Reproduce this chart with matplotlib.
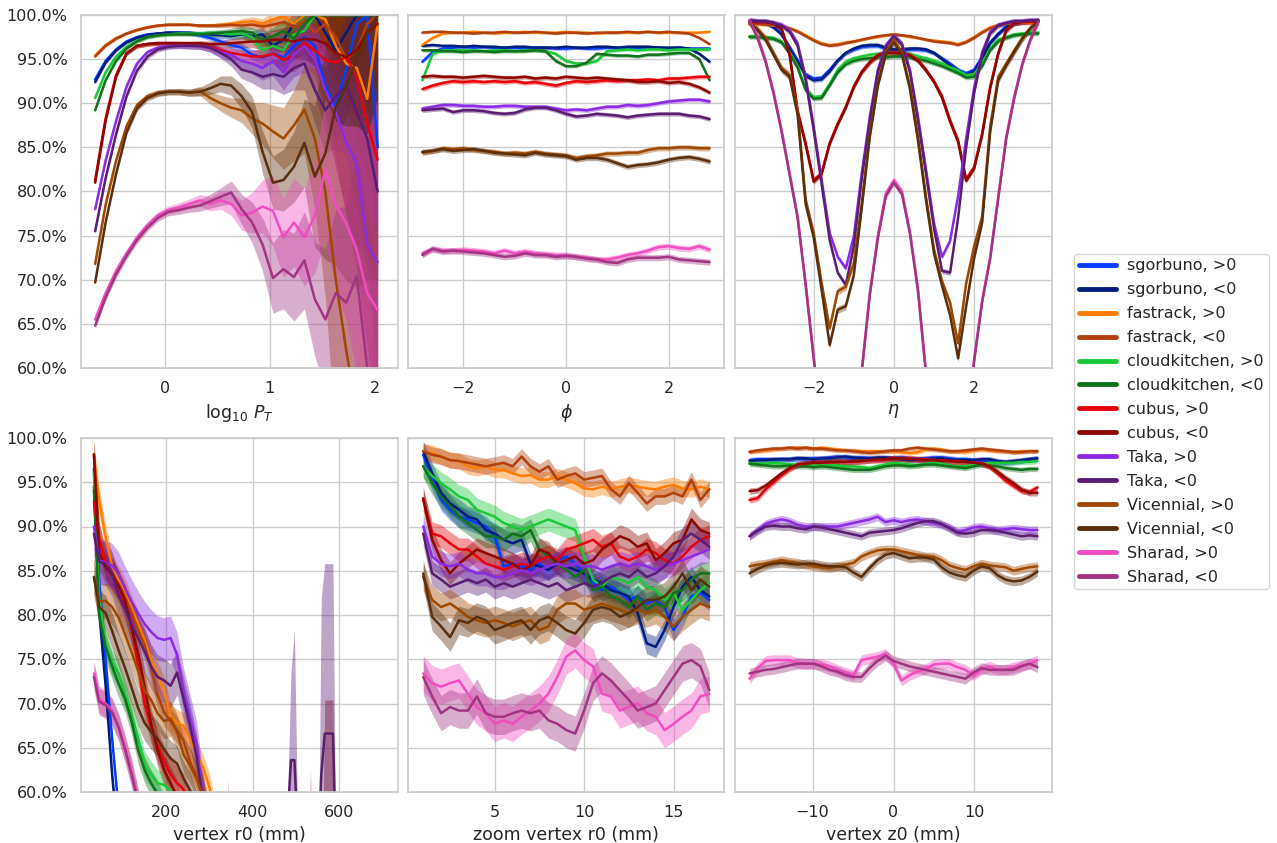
import numpy as np
import matplotlib
matplotlib.use("Agg")
import matplotlib.pyplot as plt
import seaborn as sns
from matplotlib.ticker import PercentFormatter
from matplotlib.lines import Line2D

sns.set_theme(style="whitegrid")
plt.rcParams["font.family"] = ["DejaVu Sans"]

# ---------------- series definitions ----------------
ALGOS = ["sgorbuno", "fastrack", "cloudkitchen", "cubus", "Taka", "Vicennial", "Sharad"]
COL_POS = ["#023eff", "#ff7c00", "#1ac938", "#e8000b", "#8b2be2", "#9f4800", "#f14cc1"]
COL_NEG = ["#001c7f", "#b1400d", "#12711c", "#8c0800", "#591e71", "#592f0d", "#a23582"]

# ---------------- panel 1: log10 pT ----------------
PT_X = np.linspace(-0.67, 2.03, 28)
PT_SGO_P = [92.7, 94.8, 96.1, 97.0, 97.5, 97.8, 97.9, 98.0, 98.0, 97.9, 97.7, 97.4, 97.0, 96.6, 96.3, 95.5, 95.2, 95.6, 95.2, 96.5, 97.5, 96.5, 92.0, 89.5, 94.0, 99.0, 100.0, 85.0]
PT_SGO_N = [92.4, 94.6, 96.0, 96.9, 97.4, 97.7, 97.9, 98.0, 98.0, 98.0, 97.9, 97.8, 97.7, 97.6, 97.8, 97.6, 97.8, 96.5, 97.2, 99.0, 100.0, 100.0, 98.0, 96.0, 98.0, 100.0, 100.0, 100.0]
PT_FAST_P = [95.4, 96.6, 97.4, 97.9, 98.3, 98.6, 98.8, 98.9, 98.9, 98.9, 98.8, 98.8, 98.9, 99.0, 99.2, 99.3, 99.0, 99.5, 99.8, 99.0, 100.0, 100.0, 99.5, 96.5, 94.5, 94.0, 90.5, 99.0]
PT_FAST_N = [95.3, 96.5, 97.3, 97.9, 98.3, 98.6, 98.8, 98.9, 98.9, 98.9, 98.8, 98.8, 98.8, 98.9, 98.8, 98.9, 98.7, 98.9, 99.2, 98.6, 99.3, 98.0, 99.0, 97.5, 95.0, 96.0, 99.0, 100.0]
PT_CLOUD_P = [90.6, 93.5, 95.3, 96.4, 97.1, 97.5, 97.7, 97.8, 97.9, 97.9, 97.9, 98.0, 97.9, 97.8, 97.9, 97.5, 96.0, 96.5, 96.0, 97.8, 98.2, 100.0, 100.0, 100.0, 100.0, 100.0, 100.0, 100.0]
PT_CLOUD_N = [89.2, 92.6, 94.8, 96.2, 97.0, 97.5, 97.7, 97.8, 97.8, 97.8, 97.8, 97.9, 98.0, 98.1, 98.2, 98.0, 97.2, 97.6, 98.2, 97.3, 99.0, 100.0, 100.0, 100.0, 100.0, 100.0, 100.0, 100.0]
PT_CUBUS_P = [81.3, 88.3, 93.2, 95.7, 96.5, 96.7, 96.8, 96.8, 96.8, 96.7, 96.6, 96.4, 96.0, 95.7, 95.5, 95.3, 95.3, 95.6, 94.9, 95.4, 96.8, 96.0, 94.9, 94.6, 95.3, 93.0, 87.7, 83.6]
PT_CUBUS_N = [81.0, 88.0, 93.0, 95.6, 96.5, 96.7, 96.8, 96.8, 96.8, 96.8, 96.8, 96.7, 96.7, 96.8, 96.9, 97.0, 97.0, 97.2, 97.2, 97.0, 97.3, 97.2, 96.8, 95.7, 95.2, 96.0, 98.0, 99.0]
PT_TAKA_P = [78.0, 83.5, 88.0, 91.9, 94.5, 95.8, 96.3, 96.5, 96.5, 96.5, 96.5, 96.3, 95.8, 95.5, 94.8, 94.5, 94.0, 94.8, 93.5, 95.5, 96.5, 95.0, 91.5, 89.0, 85.5, 83.2, 74.0, 72.0]
PT_TAKA_N = [75.5, 81.5, 86.5, 90.8, 93.7, 95.3, 96.1, 96.4, 96.5, 96.5, 96.5, 96.3, 95.7, 95.0, 93.8, 93.5, 93.0, 93.3, 93.0, 94.0, 94.5, 91.5, 89.2, 90.8, 92.0, 89.0, 86.0, 80.0]
PT_VIC_P = [71.8, 78.5, 83.5, 87.4, 89.8, 90.8, 91.2, 91.3, 91.3, 91.2, 91.4, 90.6, 90.0, 89.5, 89.2, 88.3, 87.7, 86.8, 86.0, 87.5, 89.3, 86.0, 80.0, 70.0, 62.0, 55.0, 50.0, 45.0]
PT_VIC_N = [69.7, 76.5, 82.0, 86.7, 89.4, 90.6, 91.1, 91.3, 91.3, 91.2, 91.3, 91.7, 92.2, 92.0, 90.8, 89.0, 84.5, 81.0, 81.3, 82.8, 85.5, 81.7, 84.3, 89.6, 91.9, 95.0, 98.0, 100.0]
PT_SHAR_P = [65.5, 68.5, 71.0, 73.0, 74.8, 76.2, 77.3, 77.9, 78.2, 78.6, 79.0, 78.6, 79.0, 78.6, 77.3, 77.6, 78.3, 77.8, 74.8, 76.5, 74.8, 77.3, 82.5, 78.5, 76.4, 73.4, 68.5, 66.6]
PT_SHAR_N = [64.8, 68.0, 70.6, 72.7, 74.5, 75.9, 77.0, 77.7, 77.9, 78.2, 78.4, 78.9, 79.4, 79.9, 78.0, 76.5, 74.0, 70.2, 71.2, 70.3, 72.2, 67.8, 65.5, 68.5, 67.4, 70.4, 60.0, 45.0]
PT_ERR_SGO = [0.2, 0.2, 0.2, 0.2, 0.2, 0.2, 0.2, 0.2, 0.2, 0.2, 0.25, 0.3, 0.35, 0.4, 0.5, 0.6, 0.8, 1.0, 1.2, 1.5, 1.9, 2.4, 3.0, 4.0, 5.5, 7.5, 10.0, 14.0]
PT_ERR_FAST = [0.15, 0.15, 0.15, 0.15, 0.15, 0.15, 0.15, 0.15, 0.15, 0.15, 0.2, 0.2, 0.25, 0.3, 0.4, 0.5, 0.6, 0.8, 1.0, 1.3, 1.7, 2.2, 3.0, 4.0, 5.5, 7.5, 10.0, 14.0]
PT_ERR_CLOUD = [0.2, 0.2, 0.2, 0.2, 0.2, 0.2, 0.2, 0.2, 0.2, 0.2, 0.25, 0.3, 0.35, 0.4, 0.5, 0.6, 0.8, 1.0, 1.3, 1.7, 2.2, 2.8, 3.5, 4.5, 6.0, 8.0, 11.0, 15.0]
PT_ERR_CUBUS = [0.25, 0.25, 0.25, 0.25, 0.25, 0.25, 0.25, 0.25, 0.25, 0.25, 0.3, 0.35, 0.4, 0.5, 0.6, 0.7, 0.9, 1.1, 1.4, 1.8, 2.3, 3.0, 6.0, 12.0, 18.0, 22.0, 25.0, 30.0]
PT_ERR_TAKA = [0.3, 0.3, 0.3, 0.3, 0.3, 0.3, 0.3, 0.3, 0.3, 0.35, 0.4, 0.5, 0.6, 0.8, 1.0, 1.2, 1.4, 1.7, 2.0, 2.5, 3.0, 3.8, 4.8, 6.0, 8.0, 11.0, 15.0, 20.0]
PT_ERR_VIC = [0.35, 0.35, 0.35, 0.35, 0.35, 0.35, 0.35, 0.35, 0.35, 0.4, 0.5, 0.7, 0.9, 1.1, 1.4, 1.8, 2.4, 3.0, 3.5, 4.0, 5.0, 8.0, 12.0, 18.0, 22.0, 26.0, 28.0, 30.0]
PT_ERR_SHAR = [0.4, 0.4, 0.4, 0.4, 0.4, 0.4, 0.4, 0.45, 0.5, 0.55, 0.65, 0.8, 1.0, 1.3, 1.7, 2.3, 3.0, 4.0, 4.5, 5.0, 5.5, 6.5, 8.0, 9.5, 11.0, 14.0, 18.0, 24.0]

# ---------------- panel 2: phi ----------------
PHI_X = np.linspace(-2.8, 2.8, 29)
PHI_SGO_P = [94.7, 95.8, 96.2, 96.3, 96.4, 96.3, 96.4, 96.3, 96.3, 96.3, 96.2, 96.3, 96.3, 96.2, 96.2, 96.3, 96.2, 96.2, 96.3, 96.3, 96.2, 96.3, 96.3, 96.3, 96.2, 96.3, 96.2, 96.2, 96.2]
PHI_SGO_N = [96.5, 96.6, 96.5, 96.5, 96.4, 96.5, 96.4, 96.4, 96.3, 96.4, 96.4, 96.3, 96.3, 96.3, 96.4, 96.3, 96.3, 96.4, 96.4, 96.3, 96.4, 96.4, 96.4, 96.3, 96.3, 96.3, 96.2, 95.6, 94.7]
PHI_FAST_P = [96.6, 97.4, 97.9, 98.0, 98.0, 98.1, 98.0, 97.9, 98.0, 98.0, 98.1, 98.0, 98.0, 98.0, 98.1, 98.0, 98.0, 97.9, 98.0, 98.0, 98.0, 98.0, 98.1, 98.0, 98.0, 98.0, 98.0, 98.0, 98.1]
PHI_FAST_N = [98.0, 98.1, 98.1, 98.0, 98.0, 97.9, 98.0, 98.0, 98.1, 98.0, 98.0, 98.1, 98.0, 97.9, 98.0, 98.0, 97.9, 98.0, 98.0, 98.0, 98.1, 98.0, 98.1, 98.0, 98.1, 98.0, 97.9, 97.4, 96.7]
PHI_CLOUD_P = [92.6, 95.6, 96.0, 96.0, 96.0, 96.0, 95.9, 96.0, 96.0, 95.9, 96.0, 96.0, 95.9, 95.6, 94.8, 94.5, 94.5, 94.8, 95.9, 96.0, 96.1, 96.0, 96.1, 96.1, 96.0, 96.1, 96.1, 96.1, 96.1]
PHI_CLOUD_N = [96.0, 96.0, 95.9, 95.9, 95.8, 95.9, 95.9, 95.8, 95.9, 95.9, 95.9, 96.0, 95.9, 94.8, 94.2, 94.2, 94.6, 95.6, 95.5, 95.4, 95.4, 95.3, 95.5, 95.5, 95.6, 95.7, 95.7, 95.0, 92.6]
PHI_CUBUS_P = [91.6, 92.0, 92.3, 92.5, 92.4, 92.5, 92.4, 92.5, 92.4, 92.5, 92.3, 92.4, 92.2, 92.0, 92.3, 92.5, 92.4, 92.5, 92.6, 92.5, 92.6, 92.6, 92.7, 92.6, 92.8, 92.8, 92.9, 93.0, 93.0]
PHI_CUBUS_N = [93.0, 93.1, 93.0, 93.0, 92.9, 93.0, 93.1, 93.0, 92.9, 92.9, 93.0, 92.8, 92.9, 92.8, 93.0, 92.9, 92.8, 92.9, 92.8, 92.7, 92.6, 92.4, 92.4, 92.5, 92.3, 92.4, 92.2, 91.8, 91.2]
PHI_TAKA_P = [89.4, 89.6, 89.8, 89.8, 89.7, 89.7, 89.6, 89.6, 89.7, 89.7, 89.6, 89.6, 89.6, 89.4, 89.2, 89.3, 89.2, 89.4, 89.6, 89.6, 89.8, 89.7, 89.8, 90.0, 90.2, 90.3, 90.4, 90.4, 90.2]
PHI_TAKA_N = [89.2, 89.3, 89.4, 89.0, 89.2, 89.2, 89.1, 88.9, 88.8, 88.9, 89.3, 89.5, 89.5, 89.2, 88.8, 88.5, 88.6, 88.8, 88.7, 88.6, 88.4, 88.6, 88.7, 88.8, 88.8, 88.8, 88.6, 88.5, 88.2]
PHI_VIC_P = [84.4, 84.6, 84.9, 84.8, 84.9, 84.7, 84.6, 84.5, 84.3, 84.4, 84.3, 84.5, 84.3, 84.2, 84.1, 83.8, 84.0, 84.1, 84.3, 84.3, 84.4, 84.4, 84.7, 84.9, 84.9, 85.0, 85.0, 84.9, 84.9]
PHI_VIC_N = [84.5, 84.6, 84.8, 84.6, 84.7, 84.8, 84.6, 84.4, 84.3, 84.2, 84.1, 84.4, 84.2, 84.1, 84.0, 83.6, 83.8, 83.8, 83.6, 83.2, 82.8, 83.0, 83.1, 83.3, 83.6, 83.8, 83.9, 83.7, 83.4]
PHI_SHAR_P = [73.0, 73.5, 73.3, 73.3, 73.4, 73.3, 73.2, 73.0, 73.3, 73.0, 73.2, 73.0, 72.9, 72.8, 72.8, 72.6, 72.5, 72.3, 72.3, 72.5, 72.8, 73.0, 73.3, 73.7, 73.8, 73.6, 73.5, 73.8, 73.4]
PHI_SHAR_N = [72.8, 73.5, 73.2, 73.3, 73.2, 73.1, 73.0, 72.8, 72.6, 72.7, 73.0, 72.8, 72.8, 72.6, 72.7, 72.6, 72.4, 72.3, 72.0, 71.9, 72.3, 72.5, 72.5, 72.5, 72.6, 72.3, 72.2, 72.1, 72.0]
PHI_ERR = [0.2, 0.15, 0.2, 0.25, 0.25, 0.3, 0.35]

# ---------------- panel 3: eta ----------------
ETA_X = np.linspace(-3.6, 3.6, 37)
ETA_SGO_P = [99.4, 99.2, 99.2, 98.7, 97.9, 96.4, 94.9, 93.3, 92.8, 92.9, 93.8, 94.9, 95.7, 96.1, 96.4, 96.5, 96.5, 96.2, 96.0, 96.0, 96.1, 96.1, 96.0, 95.7, 95.1, 94.5, 93.8, 93.4, 93.8, 95.3, 96.9, 97.9, 98.7, 99.1, 99.2, 99.3, 99.4]
ETA_SGO_N = [99.3, 99.2, 99.1, 98.6, 97.8, 96.2, 94.7, 93.1, 92.6, 92.7, 93.6, 94.8, 95.7, 96.2, 96.5, 96.6, 96.6, 96.3, 96.1, 96.1, 96.2, 96.2, 96.1, 95.7, 95.0, 94.3, 93.6, 93.2, 93.6, 95.1, 96.8, 97.8, 98.6, 99.0, 99.2, 99.3, 99.4]
ETA_FAST_P = [98.9, 98.9, 98.9, 98.8, 98.8, 98.5, 98.2, 97.7, 97.2, 96.8, 96.6, 96.7, 96.9, 97.0, 97.2, 97.4, 97.5, 97.7, 97.8, 97.7, 97.5, 97.4, 97.2, 97.1, 97.0, 96.9, 96.7, 97.0, 97.5, 98.1, 98.6, 98.9, 99.0, 99.1, 99.1, 99.1, 99.1]
ETA_FAST_N = [99.0, 99.0, 98.9, 98.9, 98.8, 98.5, 98.1, 97.6, 97.1, 96.7, 96.5, 96.6, 96.8, 97.0, 97.2, 97.4, 97.6, 97.7, 97.8, 97.7, 97.6, 97.4, 97.2, 97.0, 96.9, 96.8, 96.6, 96.9, 97.4, 98.0, 98.5, 98.8, 99.0, 99.1, 99.2, 99.2, 99.2]
ETA_CLOUD_P = [97.6, 97.6, 97.5, 97.4, 97.0, 95.8, 94.2, 91.7, 90.7, 90.8, 92.2, 93.8, 94.7, 95.1, 95.3, 95.5, 95.6, 95.7, 95.7, 95.7, 95.6, 95.3, 95.1, 94.8, 94.5, 94.1, 93.7, 93.2, 93.3, 94.5, 96.2, 97.2, 97.5, 97.8, 97.9, 98.0, 98.0]
ETA_CLOUD_N = [97.5, 97.5, 97.4, 97.3, 96.9, 95.6, 94.0, 91.5, 90.5, 90.6, 92.0, 93.5, 94.4, 94.8, 95.0, 95.1, 95.2, 95.2, 95.3, 95.3, 95.2, 95.0, 94.8, 94.5, 94.2, 93.8, 93.4, 92.9, 93.0, 94.2, 96.0, 97.0, 97.4, 97.7, 97.8, 97.9, 97.9]
ETA_CUBUS_P = [99.2, 99.2, 99.2, 99.1, 98.5, 95.7, 89.2, 85.5, 81.3, 82.1, 85.5, 87.7, 89.6, 91.9, 93.6, 94.7, 95.5, 95.8, 95.8, 95.7, 95.5, 94.9, 93.8, 92.5, 90.8, 88.1, 85.8, 81.4, 82.8, 86.6, 91.9, 95.7, 98.3, 99.1, 99.2, 99.2, 99.2]
ETA_CUBUS_N = [99.3, 99.2, 99.2, 99.0, 98.4, 95.5, 89.0, 85.3, 81.1, 82.0, 85.4, 87.6, 89.5, 91.8, 93.5, 94.6, 95.4, 95.7, 95.7, 95.6, 95.4, 94.8, 93.7, 92.4, 90.6, 87.9, 85.6, 81.2, 82.6, 86.4, 91.7, 95.6, 98.2, 99.1, 99.2, 99.3, 99.3]
ETA_TAKA_P = [99.4, 99.3, 99.3, 99.1, 98.9, 98.3, 96.8, 93.0, 87.4, 81.3, 75.3, 72.6, 71.3, 74.9, 82.1, 88.5, 93.8, 96.6, 97.7, 96.8, 93.8, 88.5, 82.5, 76.4, 72.6, 74.4, 79.5, 86.0, 91.8, 95.8, 98.1, 98.9, 99.1, 99.3, 99.3, 99.4, 99.4]
ETA_TAKA_N = [99.4, 99.3, 99.3, 99.1, 98.8, 98.1, 96.5, 92.6, 87.0, 80.8, 74.5, 70.8, 69.4, 73.8, 81.5, 88.0, 93.5, 96.4, 97.6, 96.6, 93.5, 88.0, 82.0, 75.8, 71.0, 70.8, 77.0, 85.0, 91.2, 95.5, 97.9, 98.8, 99.1, 99.3, 99.3, 99.4, 99.4]
ETA_VIC_P = [99.1, 98.4, 97.4, 95.7, 94.0, 93.2, 89.2, 79.1, 75.3, 69.6, 64.5, 68.7, 69.2, 71.9, 78.7, 86.6, 92.3, 95.8, 97.2, 95.7, 91.9, 86.2, 79.4, 73.4, 69.8, 67.4, 62.8, 69.6, 73.8, 77.2, 87.4, 93.0, 94.5, 96.0, 97.4, 98.5, 99.2]
ETA_VIC_N = [99.2, 98.3, 97.2, 95.5, 93.8, 93.0, 88.7, 78.6, 74.8, 68.8, 62.6, 66.6, 67.0, 70.5, 78.2, 86.2, 92.0, 95.6, 96.9, 95.5, 91.6, 85.8, 79.0, 73.0, 69.3, 66.0, 61.1, 67.0, 72.5, 76.5, 86.8, 92.6, 94.3, 95.8, 97.3, 98.5, 99.3]
ETA_SHAR_P = [99.4, 97.6, 94.9, 91.3, 87.0, 82.1, 77.2, 69.6, 61.3, 53.0, 46.0, 42.0, 42.0, 47.0, 59.8, 68.5, 75.0, 79.8, 81.3, 80.0, 75.5, 69.0, 59.5, 48.0, 42.0, 42.0, 46.0, 53.0, 61.0, 67.7, 72.6, 79.4, 86.2, 90.8, 94.5, 97.2, 99.2]
ETA_SHAR_N = [99.3, 97.4, 94.7, 91.1, 86.8, 81.9, 77.0, 69.4, 61.1, 53.0, 46.0, 42.0, 42.0, 47.0, 59.6, 68.3, 74.7, 79.5, 81.0, 79.7, 75.2, 68.7, 59.3, 48.0, 42.0, 42.0, 46.0, 53.0, 60.8, 67.5, 72.4, 79.2, 86.0, 90.6, 94.4, 97.2, 99.3]
ETA_ERR = [0.25, 0.15, 0.25, 0.3, 0.3, 0.4, 0.35]

# ---------------- panel 4: vertex r0 ----------------
R0_X = [33, 45, 60, 75, 90, 105, 120, 135, 150, 165, 180, 195, 210, 225, 240, 255, 270, 285, 300, 315]
R0_SGO_P = [96.5, 84.0, 75.0, 66.0, 58.0, 50.0, None, None, None, None, None, None, None, None, None, None, None, None, None, None]
R0_SGO_N = [94.5, 80.5, 72.0, 62.0, 54.0, 47.0, None, None, None, None, None, None, None, None, None, None, None, None, None, None]
R0_FAST_P = [98.0, 93.0, 88.8, 85.5, 84.0, 82.7, 80.8, 79.0, 77.2, 75.0, 73.2, 71.5, 68.5, 67.8, 67.5, 66.0, 64.2, 62.8, 60.5, 57.0]
R0_FAST_N = [98.2, 89.0, 85.5, 84.6, 83.5, 82.0, 80.3, 78.3, 76.6, 74.0, 71.0, 69.0, 68.0, 67.0, 65.8, 63.4, 61.8, 60.5, 57.0, 54.0]
R0_CLOUD_P = [96.0, 82.1, 76.8, 74.6, 73.4, 71.0, 68.7, 66.1, 63.1, 62.0, 61.0, 60.8, 60.2, 57.0, 54.0, None, None, None, None, None]
R0_CLOUD_N = [94.1, 80.0, 76.4, 74.2, 72.2, 70.5, 68.0, 64.7, 62.5, 61.0, 59.8, 58.0, 55.0, None, None, None, None, None, None, None]
R0_CUBUS_P = [92.8, 88.5, 86.0, 84.5, 83.3, 81.1, 78.8, 74.3, 70.0, 67.3, 65.2, 63.5, 62.0, 61.0, 60.3, 58.5, 56.0, None, None, None]
R0_CUBUS_N = [98.1, 87.0, 85.4, 84.6, 83.3, 81.6, 78.5, 75.7, 72.0, 67.7, 64.7, 62.5, 61.0, 59.5, 57.0, 54.0, None, None, None, None]
R0_TAKA_P = [90.0, 86.2, 85.9, 85.6, 84.6, 83.0, 81.5, 80.2, 79.0, 78.1, 77.4, 77.2, 77.4, 75.5, 71.5, 68.5, 65.5, 59.5, 55.0, None]
R0_TAKA_N = [89.2, 86.0, 85.8, 84.6, 82.2, 80.7, 78.8, 77.4, 75.9, 74.2, 73.0, 72.6, 72.0, 73.5, 70.5, 67.5, 64.0, 59.0, 55.0, None]
R0_VIC_P = [84.3, 81.5, 81.6, 80.9, 79.7, 77.8, 75.8, 73.7, 71.5, 70.4, 68.9, 68.0, 68.3, 66.8, 64.2, 63.0, 61.5, 59.5, 56.0, None]
R0_VIC_N = [84.3, 80.9, 80.2, 78.2, 76.0, 74.0, 71.8, 69.5, 67.8, 66.8, 66.0, 64.8, 63.8, 63.2, 61.5, 60.2, 58.0, 55.0, None, None]
R0_SHAR_P = [73.4, 70.5, 70.0, 69.2, 67.4, 65.0, 62.3, 59.0, 55.0, None, None, None, None, None, None, None, None, None, None, None]
R0_SHAR_N = [73.0, 70.2, 69.8, 69.0, 67.3, 64.8, 62.0, 58.8, 55.0, None, None, None, None, None, None, None, None, None, None, None]
R0_ERR = [0.8, 1.5, 1.5, 1.8, 2.5, 2.0, 1.5]
# isolated large-r0 bins
R0_TAIL_TAKA_X = [478, 488, 496, 504, 552, 558, 566, 585, 591]
R0_TAIL_TAKA_N = [55.0, 63.6, 63.6, 55.0, 55.0, 62.0, 66.6, 66.6, 55.0]
R0_TAIL_TAKA_ERR = [0.0, 10.0, 14.7, 0.0, 0.0, 20.0, 19.2, 19.2, 0.0]
R0_TAIL_CUBUS_X = [338, 343, 348, 528, 533, 538, 560, 566, 585, 591]
R0_TAIL_CUBUS_N = [50.0, 50.0, 50.0, 50.0, 50.0, 50.0, 50.0, 55.0, 55.0, 50.0]
R0_TAIL_CUBUS_ERR = [0.0, 11.5, 0.0, 0.0, 12.8, 0.0, 0.0, 15.4, 15.4, 0.0]

# ---------------- panel 5: zoom vertex r0 ----------------
ZR0_X = np.arange(1.0, 17.01, 0.5)
ZR0_SGO_P = [98.1, 95.3, 93.0, 91.9, 91.1, 90.8, 90.4, 90.0, 88.9, 85.5, 85.8, 85.5, 85.1, 85.8, 85.1, 86.2, 86.6, 85.8, 84.7, 83.6, 82.8, 83.2, 82.5, 81.7, 82.1, 81.3, 81.7, 80.9, 78.3, 79.8, 82.1, 82.5, 81.7]
ZR0_SGO_N = [98.5, 96.0, 93.8, 92.6, 91.9, 91.1, 90.8, 89.6, 89.2, 88.5, 88.1, 88.5, 85.8, 85.5, 85.1, 85.8, 85.5, 85.1, 84.7, 84.0, 83.6, 82.8, 82.5, 82.1, 80.2, 76.8, 76.4, 78.3, 80.9, 83.2, 84.3, 82.8, 82.1]
ZR0_FAST_P = [98.5, 98.3, 97.9, 97.5, 97.4, 96.8, 96.6, 96.8, 96.4, 96.4, 96.0, 95.7, 95.8, 95.3, 95.3, 95.7, 95.3, 94.9, 94.3, 94.2, 94.5, 94.2, 94.5, 94.7, 94.5, 94.3, 94.2, 94.5, 94.7, 94.3, 94.2, 94.5, 94.2]
ZR0_FAST_N = [98.5, 98.1, 97.9, 97.5, 97.4, 97.2, 97.0, 96.8, 97.0, 97.2, 96.8, 97.9, 96.8, 96.2, 96.8, 95.3, 95.7, 96.0, 95.3, 95.5, 95.7, 94.2, 93.4, 94.9, 93.8, 92.6, 93.4, 93.4, 93.8, 93.4, 95.3, 93.0, 94.2]
ZR0_CLOUD_P = [96.8, 95.7, 94.9, 94.2, 93.4, 93.0, 91.9, 91.5, 91.1, 90.4, 90.0, 89.6, 90.0, 90.4, 90.8, 90.4, 90.0, 89.6, 86.6, 84.0, 83.2, 84.3, 84.0, 83.6, 84.3, 83.2, 82.8, 81.7, 82.5, 80.6, 81.7, 82.8, 83.6]
ZR0_CLOUD_N = [96.8, 94.9, 93.4, 92.3, 91.1, 90.4, 89.6, 88.9, 88.9, 88.5, 89.2, 88.9, 89.6, 87.4, 86.6, 85.8, 85.1, 84.3, 85.1, 82.8, 83.2, 82.1, 81.7, 80.9, 82.1, 80.6, 81.3, 80.9, 82.5, 82.8, 84.0, 84.7, 84.7]
ZR0_CUBUS_P = [93.0, 89.2, 88.9, 88.1, 87.4, 87.4, 86.6, 85.8, 85.5, 85.1, 85.5, 85.8, 85.5, 86.2, 86.6, 86.2, 87.4, 87.7, 88.1, 88.5, 87.7, 88.1, 86.6, 86.2, 86.6, 87.4, 87.0, 86.2, 85.8, 86.6, 87.7, 88.5, 88.9]
ZR0_CUBUS_N = [93.2, 88.5, 86.2, 84.7, 85.8, 86.6, 87.4, 87.0, 86.6, 86.2, 85.8, 85.1, 85.5, 87.4, 87.0, 85.8, 86.2, 86.6, 85.8, 86.2, 87.4, 88.1, 88.9, 88.5, 87.7, 88.1, 86.2, 87.0, 88.1, 88.5, 90.8, 89.6, 89.2]
ZR0_TAKA_P = [90.0, 86.6, 85.8, 85.5, 85.8, 85.1, 84.7, 84.7, 84.3, 84.3, 84.7, 85.1, 84.7, 85.1, 85.5, 85.8, 85.5, 85.8, 85.5, 85.5, 85.1, 85.5, 85.8, 85.5, 85.8, 85.5, 85.1, 85.5, 85.8, 86.2, 86.6, 87.0, 87.4]
ZR0_TAKA_N = [89.2, 84.7, 84.0, 83.2, 83.6, 84.0, 83.6, 84.0, 83.2, 83.6, 83.2, 83.6, 84.0, 83.6, 83.2, 83.6, 82.8, 83.2, 83.6, 83.2, 83.6, 84.3, 84.7, 84.3, 85.1, 84.3, 84.7, 85.5, 86.6, 88.5, 89.2, 88.5, 87.7]
ZR0_VIC_P = [84.3, 81.7, 80.9, 81.3, 80.6, 79.8, 79.4, 79.1, 79.4, 79.1, 78.7, 79.1, 79.4, 78.3, 78.7, 80.6, 81.3, 81.3, 80.6, 80.9, 81.3, 80.9, 80.6, 80.2, 80.6, 80.2, 80.6, 79.8, 78.7, 79.8, 80.6, 81.3, 80.9]
ZR0_VIC_N = [84.7, 79.8, 78.7, 77.5, 79.4, 79.1, 79.8, 79.4, 78.3, 78.7, 79.1, 79.4, 78.3, 79.4, 79.8, 79.1, 78.3, 77.9, 79.1, 80.6, 80.9, 80.6, 79.8, 80.2, 80.9, 81.7, 81.7, 82.1, 83.2, 84.7, 82.8, 84.0, 83.2]
ZR0_SHAR_P = [73.4, 72.3, 71.9, 72.3, 72.6, 71.1, 69.6, 68.9, 67.7, 68.1, 67.7, 68.5, 69.2, 70.0, 71.1, 73.0, 75.3, 76.0, 74.9, 74.2, 71.1, 70.8, 69.2, 69.6, 70.0, 68.9, 68.5, 67.0, 67.7, 68.5, 69.2, 70.8, 71.1]
ZR0_SHAR_N = [73.0, 70.8, 68.9, 69.6, 69.2, 69.2, 70.8, 68.9, 68.5, 68.5, 68.9, 69.2, 68.9, 69.2, 68.1, 67.7, 67.0, 66.6, 69.2, 72.3, 73.4, 72.6, 71.5, 70.4, 69.2, 69.6, 70.0, 71.5, 73.0, 74.5, 74.9, 74.2, 71.5]
ZR0_ERR = [1.2, 0.9, 1.3, 1.3, 1.4, 1.6, 2.0]

# ---------------- panel 6: vertex z0 ----------------
Z0_X = np.linspace(-17.8, 17.8, 37)
Z0_SGO_P = [97.5, 97.6, 97.6, 97.5, 97.6, 97.6, 97.7, 97.6, 97.7, 97.7, 97.8, 97.9, 97.8, 97.7, 97.8, 97.7, 97.6, 97.7, 97.7, 97.8, 97.7, 97.6, 97.7, 97.8, 97.8, 97.7, 97.6, 97.6, 97.5, 97.4, 97.4, 97.3, 97.2, 97.3, 97.4, 97.6, 97.7]
Z0_SGO_N = [97.4, 97.5, 97.5, 97.6, 97.6, 97.6, 97.7, 97.7, 97.6, 97.7, 97.7, 97.8, 97.9, 97.8, 97.7, 97.7, 97.8, 97.8, 97.7, 97.6, 97.5, 97.6, 97.6, 97.7, 97.7, 97.6, 97.5, 97.5, 97.5, 97.6, 97.6, 97.4, 97.3, 97.4, 97.5, 97.6, 97.7]
Z0_FAST_P = [98.5, 98.5, 98.6, 98.7, 98.8, 98.9, 98.9, 98.9, 98.8, 98.9, 98.8, 98.7, 98.6, 98.6, 98.5, 98.5, 98.5, 98.5, 98.5, 98.4, 98.3, 98.4, 98.7, 98.8, 98.7, 98.5, 98.5, 98.4, 98.6, 98.7, 98.6, 98.5, 98.5, 98.4, 98.5, 98.5, 98.5]
Z0_FAST_N = [98.4, 98.6, 98.7, 98.8, 98.8, 98.9, 98.8, 98.9, 98.8, 98.8, 98.7, 98.6, 98.6, 98.5, 98.4, 98.3, 98.4, 98.5, 98.6, 98.6, 98.8, 98.9, 98.8, 98.7, 98.6, 98.5, 98.5, 98.6, 98.7, 98.8, 98.7, 98.6, 98.5, 98.4, 98.4, 98.5, 98.5]
Z0_CLOUD_P = [97.2, 97.1, 97.1, 97.2, 97.1, 97.0, 97.0, 97.0, 96.9, 96.9, 97.0, 96.9, 96.8, 96.8, 96.7, 96.6, 96.8, 97.0, 97.2, 97.1, 97.0, 96.9, 97.1, 97.2, 97.1, 96.9, 96.8, 96.8, 97.0, 97.1, 97.2, 97.2, 97.2, 97.2, 97.3, 97.3, 97.4]
Z0_CLOUD_N = [97.1, 97.0, 96.9, 96.8, 96.8, 96.9, 96.8, 96.8, 96.7, 96.8, 96.7, 96.6, 96.5, 96.4, 96.4, 96.4, 96.6, 96.8, 96.9, 96.9, 96.8, 96.9, 97.0, 97.0, 96.9, 96.8, 96.7, 96.6, 96.8, 97.0, 96.9, 96.8, 96.6, 96.5, 96.4, 96.5, 96.5]
Z0_CUBUS_P = [93.0, 93.2, 94.2, 95.0, 95.8, 96.5, 97.0, 97.1, 97.2, 97.2, 97.2, 97.3, 97.3, 97.3, 97.4, 97.5, 97.5, 97.6, 97.7, 97.7, 97.7, 97.6, 97.6, 97.5, 97.5, 97.4, 97.4, 97.3, 97.2, 97.2, 96.8, 96.0, 95.2, 94.6, 94.0, 93.9, 94.4]
Z0_CUBUS_N = [94.0, 94.1, 94.6, 95.3, 96.0, 96.6, 97.0, 97.1, 97.2, 97.2, 97.3, 97.3, 97.3, 97.4, 97.4, 97.5, 97.6, 97.6, 97.7, 97.7, 97.6, 97.6, 97.5, 97.5, 97.4, 97.4, 97.3, 97.3, 97.2, 97.1, 96.8, 96.2, 95.5, 94.9, 94.2, 93.8, 93.8]
Z0_TAKA_P = [88.9, 89.6, 90.3, 90.6, 90.8, 90.6, 90.2, 90.0, 90.0, 90.0, 90.0, 90.0, 90.2, 90.4, 90.6, 90.8, 91.1, 90.5, 90.7, 90.5, 90.7, 90.8, 90.6, 90.4, 90.2, 89.9, 89.4, 89.6, 89.9, 90.0, 89.8, 89.6, 89.7, 89.8, 89.7, 89.6, 89.6]
Z0_TAKA_N = [88.9, 89.5, 90.0, 90.1, 90.0, 90.0, 89.8, 89.7, 90.0, 89.9, 89.7, 89.5, 89.3, 89.1, 88.9, 89.3, 89.4, 89.5, 89.6, 89.8, 90.1, 90.4, 90.6, 90.6, 90.3, 89.8, 89.3, 89.2, 89.3, 89.6, 89.6, 89.5, 89.3, 89.1, 88.9, 89.0, 88.9]
Z0_VIC_P = [85.5, 85.7, 85.8, 86.0, 86.2, 86.0, 85.9, 85.7, 85.5, 85.4, 85.3, 85.5, 85.7, 85.9, 86.6, 87.0, 87.3, 87.4, 87.4, 87.2, 87.0, 86.8, 86.6, 86.6, 86.2, 85.6, 85.3, 85.1, 85.5, 85.8, 85.6, 85.5, 85.4, 85.0, 85.2, 85.4, 85.5]
Z0_VIC_N = [84.7, 85.2, 85.6, 85.8, 85.9, 85.8, 85.7, 85.8, 85.8, 85.6, 85.5, 85.5, 85.4, 84.8, 84.3, 85.3, 86.2, 86.8, 87.0, 86.7, 86.4, 86.5, 86.5, 86.3, 85.4, 84.8, 84.5, 84.3, 85.0, 85.5, 85.3, 84.5, 84.0, 83.8, 83.9, 84.3, 84.9]
Z0_SHAR_P = [72.8, 74.0, 74.8, 74.9, 74.9, 74.9, 74.6, 74.5, 74.5, 74.4, 74.2, 73.8, 73.5, 73.2, 74.9, 75.1, 75.3, 75.6, 74.5, 72.6, 73.2, 73.6, 73.9, 74.4, 74.5, 74.5, 74.1, 73.8, 73.2, 73.8, 74.2, 73.8, 73.8, 74.1, 74.3, 74.5, 74.9]
Z0_SHAR_N = [73.4, 73.6, 73.8, 73.9, 74.1, 74.3, 74.5, 74.5, 74.5, 74.2, 73.8, 73.6, 73.2, 73.0, 73.0, 74.0, 74.8, 75.4, 74.8, 74.5, 74.2, 74.0, 73.8, 73.6, 73.4, 73.2, 73.0, 72.8, 73.5, 74.0, 73.8, 73.8, 73.8, 73.8, 74.2, 74.5, 74.1]
Z0_ERR = [0.3, 0.25, 0.3, 0.35, 0.45, 0.5, 0.6]

# ---------------- assemble ----------------
PT_SERIES = [(PT_SGO_P, PT_SGO_N), (PT_FAST_P, PT_FAST_N), (PT_CLOUD_P, PT_CLOUD_N),
             (PT_CUBUS_P, PT_CUBUS_N), (PT_TAKA_P, PT_TAKA_N), (PT_VIC_P, PT_VIC_N),
             (PT_SHAR_P, PT_SHAR_N)]
PT_ERRS = [PT_ERR_SGO, PT_ERR_FAST, PT_ERR_CLOUD, PT_ERR_CUBUS, PT_ERR_TAKA, PT_ERR_VIC, PT_ERR_SHAR]
PHI_SERIES = [(PHI_SGO_P, PHI_SGO_N), (PHI_FAST_P, PHI_FAST_N), (PHI_CLOUD_P, PHI_CLOUD_N),
              (PHI_CUBUS_P, PHI_CUBUS_N), (PHI_TAKA_P, PHI_TAKA_N), (PHI_VIC_P, PHI_VIC_N),
              (PHI_SHAR_P, PHI_SHAR_N)]
ETA_SERIES = [(ETA_SGO_P, ETA_SGO_N), (ETA_FAST_P, ETA_FAST_N), (ETA_CLOUD_P, ETA_CLOUD_N),
              (ETA_CUBUS_P, ETA_CUBUS_N), (ETA_TAKA_P, ETA_TAKA_N), (ETA_VIC_P, ETA_VIC_N),
              (ETA_SHAR_P, ETA_SHAR_N)]
R0_SERIES = [(R0_SGO_P, R0_SGO_N), (R0_FAST_P, R0_FAST_N), (R0_CLOUD_P, R0_CLOUD_N),
             (R0_CUBUS_P, R0_CUBUS_N), (R0_TAKA_P, R0_TAKA_N), (R0_VIC_P, R0_VIC_N),
             (R0_SHAR_P, R0_SHAR_N)]
ZR0_SERIES = [(ZR0_SGO_P, ZR0_SGO_N), (ZR0_FAST_P, ZR0_FAST_N), (ZR0_CLOUD_P, ZR0_CLOUD_N),
              (ZR0_CUBUS_P, ZR0_CUBUS_N), (ZR0_TAKA_P, ZR0_TAKA_N), (ZR0_VIC_P, ZR0_VIC_N),
              (ZR0_SHAR_P, ZR0_SHAR_N)]
Z0_SERIES = [(Z0_SGO_P, Z0_SGO_N), (Z0_FAST_P, Z0_FAST_N), (Z0_CLOUD_P, Z0_CLOUD_N),
             (Z0_CUBUS_P, Z0_CUBUS_N), (Z0_TAKA_P, Z0_TAKA_N), (Z0_VIC_P, Z0_VIC_N),
             (Z0_SHAR_P, Z0_SHAR_N)]

LW = 1.8
ALPHA = 0.4


def band(ax, x, y, e, color):
    x = np.asarray(x, dtype=float)
    y = np.asarray(y, dtype=float)
    e = np.broadcast_to(np.asarray(e, dtype=float), y.shape)
    ax.fill_between(x, y - e, y + e, color=color, alpha=ALPHA, linewidth=0)
    ax.plot(x, y, color=color, lw=LW)


def draw_panel(ax, x, series, errs):
    for i, (pos, neg) in enumerate(series):
        band(ax, x, pos, errs[i], COL_POS[i])
        band(ax, x, neg, errs[i], COL_NEG[i])


fig = plt.figure(figsize=(12.77, 8.43), dpi=100)
W, H = 1277.0, 843.0
lefts = [80.5, 407.5, 735.0]
aw = 317.0
rows = [(15.0, 368.0), (438.0, 792.0)]
axes = []
first = None
for r, (top, bot) in enumerate(rows):
    for c, lx in enumerate(lefts):
        rect = [lx / W, 1 - bot / H, aw / W, (bot - top) / H]
        ax = fig.add_axes(rect, sharey=first)
        if first is None:
            first = ax
        axes.append(ax)

a_pt, a_phi, a_eta, a_r0, a_zr0, a_z0 = axes

draw_panel(a_pt, PT_X, PT_SERIES, PT_ERRS)
draw_panel(a_phi, PHI_X, PHI_SERIES, PHI_ERR)
draw_panel(a_eta, ETA_X, ETA_SERIES, ETA_ERR)
draw_panel(a_r0, R0_X, R0_SERIES, R0_ERR)
band(a_r0, R0_TAIL_CUBUS_X, R0_TAIL_CUBUS_N, R0_TAIL_CUBUS_ERR, COL_NEG[3])
band(a_r0, R0_TAIL_TAKA_X, R0_TAIL_TAKA_N, R0_TAIL_TAKA_ERR, COL_NEG[4])
draw_panel(a_zr0, ZR0_X, ZR0_SERIES, ZR0_ERR)
draw_panel(a_z0, Z0_X, Z0_SERIES, Z0_ERR)

a_pt.set_xlim(-0.81, 2.22)
a_phi.set_xlim(-3.09, 3.09)
a_eta.set_xlim(-3.96, 3.94)
a_r0.set_xlim(2, 734)
a_zr0.set_xlim(0.12, 17.85)
a_z0.set_xlim(-19.6, 19.6)

a_pt.set_xticks([0, 1, 2])
a_phi.set_xticks([-2, 0, 2])
a_eta.set_xticks([-2, 0, 2])
a_r0.set_xticks([200, 400, 600])
a_zr0.set_xticks([5, 10, 15])
a_z0.set_xticks([-10, 0, 10])

labels = [r"log$_{10}$ $P_T$", r"$\phi$", r"$\eta$", "vertex r0 (mm)", "zoom vertex r0 (mm)", "vertex z0 (mm)"]
for ax, lab in zip(axes, labels):
    ax.set_xlabel(lab, fontsize=12.5)
    ax.tick_params(axis="both", labelsize=11.5)

first.set_ylim(60, 100)
first.set_yticks([60, 65, 70, 75, 80, 85, 90, 95, 100])
first.yaxis.set_major_formatter(PercentFormatter(xmax=100, decimals=1))
for ax in axes:
    if ax not in (a_pt, a_r0):
        ax.tick_params(labelleft=False)

handles = []
names = []
for i, a in enumerate(ALGOS):
    handles.append(Line2D([], [], color=COL_POS[i], lw=3.5))
    names.append(f"{a}, >0")
    handles.append(Line2D([], [], color=COL_NEG[i], lw=3.5))
    names.append(f"{a}, <0")
fig.legend(handles, names, loc="center left", bbox_to_anchor=(1074 / W, 0.5),
           borderaxespad=0.0, borderpad=0.3, fontsize=11.5, handlelength=2.3,
           handletextpad=0.73, labelspacing=0.56, frameon=True)

fig.savefig("out.png", dpi=100)
